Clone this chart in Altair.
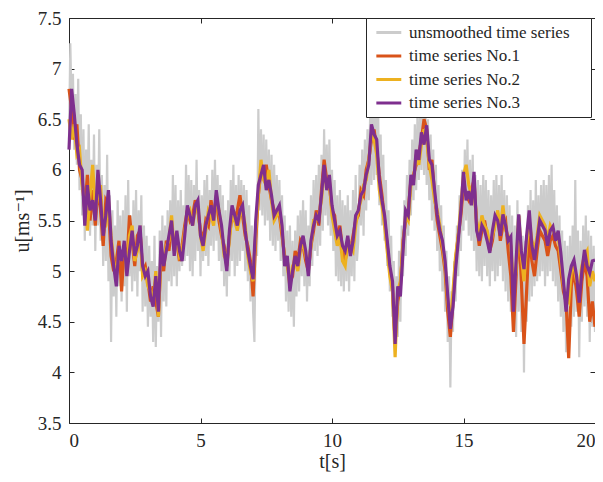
import altair as alt
import pandas as pd

# smoothed series: one sample every 0.1 s from 0 to 20 s
series1_u = [
    6.80, 6.60, 6.30, 6.45, 6.00, 5.90, 5.60, 5.95, 5.50, 5.80,
    5.45, 5.85, 5.60, 5.25, 5.70, 5.65, 5.15, 5.00, 5.10, 5.30,
    4.80, 5.25, 5.05, 5.55, 5.30, 5.05, 5.35, 5.40, 5.00, 5.05,
    4.90, 4.70, 4.85, 4.70, 4.55, 5.15, 5.00, 5.30, 5.20, 5.45,
    5.25, 5.30, 5.10, 5.25, 5.45, 5.60, 5.50, 5.55, 5.70, 5.60,
    5.40, 5.30, 5.50, 5.45, 5.70, 5.55, 5.70, 5.50, 5.35, 5.25,
    5.05, 5.35, 5.55, 5.50, 5.60, 5.75, 5.55, 5.35, 5.25, 5.10,
    4.75, 5.30, 5.75, 6.00, 5.95, 6.05, 5.85, 5.70, 5.60, 5.55,
    5.55, 5.35, 5.15, 5.10, 4.90, 4.95, 5.20, 5.10, 5.30, 5.25,
    5.10, 5.00, 5.25, 5.40, 5.60, 5.45, 5.80, 6.10, 5.90, 5.85,
    5.60, 5.55, 5.30, 5.45, 5.20, 5.10, 5.25, 5.20, 5.35, 5.50,
    5.55, 5.80, 5.75, 6.00, 6.10, 6.30, 6.40, 6.20, 5.95, 5.75,
    5.50, 5.25, 5.00, 4.85, 4.30, 4.70, 4.85, 5.30, 5.50, 5.60,
    5.90, 5.95, 6.05, 6.15, 6.30, 6.50, 6.40, 6.00, 6.10, 5.75,
    5.50, 5.35, 5.20, 5.00, 4.60, 4.35, 4.70, 5.10, 5.35, 5.55,
    5.85, 5.75, 5.70, 5.80, 5.90, 5.45, 5.25, 5.40, 5.50, 5.35,
    5.20, 5.30, 5.50, 5.55, 5.30, 5.45, 5.50, 5.20, 4.95, 4.40,
    4.95, 5.45, 4.90, 4.28, 4.80, 5.35, 5.10, 4.95, 5.20, 5.40,
    5.35, 5.30, 5.15, 5.30, 5.35, 5.25, 5.20, 5.00, 4.80, 4.70,
    4.14, 4.85, 5.00, 4.80, 4.55, 4.90, 5.10, 4.95, 4.50, 4.70,
    4.45,
]

series2_u = [
    6.50, 6.30, 6.45, 6.15, 6.20, 5.85, 5.70, 5.40, 5.75, 6.05,
    5.60, 5.75, 5.85, 5.40, 5.45, 5.70, 5.35, 5.10, 4.95, 5.20,
    5.15, 5.20, 5.00, 5.35, 5.45, 5.10, 5.20, 5.40, 4.95, 5.00,
    4.85, 4.80, 4.70, 5.00, 4.55, 5.20, 5.10, 5.25, 5.30, 5.55,
    5.20, 5.35, 5.15, 5.20, 5.40, 5.55, 5.60, 5.45, 5.60, 5.65,
    5.35, 5.20, 5.40, 5.60, 5.55, 5.45, 5.75, 5.60, 5.40, 5.15,
    5.10, 5.30, 5.60, 5.50, 5.40, 5.55, 5.60, 5.45, 5.15, 5.00,
    4.90, 5.40, 5.75, 6.10, 5.90, 5.85, 6.00, 5.70, 5.50, 5.55,
    5.60, 5.40, 5.10, 5.05, 4.85, 5.05, 5.10, 5.00, 5.20, 5.30,
    5.15, 5.05, 5.25, 5.50, 5.50, 5.55, 5.70, 6.00, 5.85, 5.90,
    5.55, 5.40, 5.25, 5.35, 5.10, 5.05, 5.30, 5.25, 5.20, 5.45,
    5.60, 5.70, 5.85, 5.90, 6.10, 6.35, 6.30, 6.15, 5.80, 5.65,
    5.45, 5.20, 4.95, 4.80, 4.15, 4.80, 4.90, 5.25, 5.55, 5.50,
    5.85, 5.90, 6.15, 6.05, 6.25, 6.40, 6.30, 6.05, 5.90, 5.70,
    5.60, 5.45, 5.25, 5.05, 4.70, 4.50, 4.80, 5.15, 5.35, 5.65,
    5.95, 6.05, 5.85, 5.75, 5.80, 5.50, 5.35, 5.55, 5.45, 5.40,
    5.25, 5.35, 5.45, 5.60, 5.40, 5.65, 5.40, 5.35, 5.25, 4.85,
    5.00, 5.55, 5.15, 4.90, 5.25, 5.50, 5.30, 5.20, 5.35, 5.55,
    5.50, 5.45, 5.30, 5.45, 5.40, 5.35, 5.35, 5.10, 4.85, 4.75,
    4.70, 5.00, 5.05, 4.90, 4.85, 5.05, 5.15, 5.20, 4.85, 5.00,
    4.90,
]

series3_u = [
    6.20, 6.80, 6.55, 6.25, 6.05, 6.00, 5.45, 5.85, 5.60, 5.70,
    5.50, 6.00, 5.70, 5.35, 5.55, 5.80, 5.30, 5.05, 4.85, 5.25,
    5.10, 5.30, 4.95, 5.20, 5.40, 5.15, 5.25, 5.45, 5.05, 4.95,
    5.00, 4.75, 4.65, 4.95, 4.60, 5.30, 5.05, 5.20, 5.35, 5.50,
    5.15, 5.40, 5.20, 5.10, 5.35, 5.65, 5.55, 5.45, 5.65, 5.70,
    5.35, 5.25, 5.45, 5.55, 5.65, 5.50, 5.80, 5.60, 5.45, 5.20,
    5.00, 5.40, 5.65, 5.55, 5.45, 5.60, 5.65, 5.40, 5.20, 5.05,
    4.92, 5.50, 5.85, 5.95, 6.05, 5.80, 5.90, 5.75, 5.55, 5.60,
    5.65, 5.45, 5.05, 5.15, 4.80, 5.00, 5.15, 5.05, 5.25, 5.35,
    5.20, 4.95, 5.30, 5.45, 5.55, 5.50, 5.75, 6.05, 5.80, 5.95,
    5.65, 5.50, 5.35, 5.40, 5.25, 5.20, 5.35, 5.15, 5.30, 5.55,
    5.60, 5.75, 5.80, 5.95, 6.05, 6.45, 6.35, 6.30, 5.90, 5.70,
    5.55, 5.30, 5.05, 4.90, 4.28, 4.85, 4.75, 5.20, 5.60, 5.55,
    5.95, 5.85, 6.20, 6.10, 6.37, 6.25, 6.44, 6.10, 6.05, 5.80,
    5.56, 5.40, 5.30, 5.10, 4.76, 4.43, 4.65, 5.02, 5.30, 5.60,
    5.98, 5.70, 5.79, 5.65, 5.98, 5.40, 5.30, 5.45, 5.40, 5.30,
    5.18, 5.40, 5.55, 5.50, 5.35, 5.56, 5.45, 5.30, 5.34, 4.60,
    5.10, 5.56, 5.20, 5.02, 5.35, 5.60, 5.25, 5.11, 5.30, 5.50,
    5.45, 5.40, 5.25, 5.40, 5.44, 5.30, 5.40, 5.18, 4.90, 4.60,
    4.92, 5.05, 5.11, 4.95, 4.69, 5.00, 5.21, 5.05, 4.98, 5.10,
    5.11,
]

# unsmoothed series: one sample every 0.05 s from 0 to 20 s
gray_u = [
    6.30, 7.25, 6.60, 6.95, 6.20, 6.75, 6.05, 6.90, 5.80, 6.55, 5.55, 6.40, 5.30, 6.20, 5.60, 6.45, 5.35, 6.10, 5.45, 6.35,
    5.20, 6.05, 5.45, 6.40, 5.30, 5.95, 5.05, 5.85, 5.10, 6.15, 4.90, 5.75, 4.30, 5.60, 4.75, 5.45, 4.55, 5.70, 4.85, 5.55,
    4.70, 5.60, 4.85, 5.75, 4.60, 5.90, 4.95, 5.55, 4.80, 5.70, 4.90, 5.80, 4.75, 5.60, 5.00, 5.75, 4.60, 5.45, 4.65, 5.35,
    4.45, 5.25, 4.55, 5.10, 4.30, 5.35, 4.25, 5.05, 4.50, 5.40, 4.35, 5.55, 4.70, 5.45, 4.65, 5.60, 4.90, 5.70, 4.85, 5.95,
    4.95, 5.85, 4.85, 5.70, 5.00, 5.80, 5.05, 5.65, 5.10, 6.05, 5.15, 5.95, 5.00, 5.90, 4.95, 5.85, 5.10, 6.10, 5.20, 5.80,
    4.95, 5.75, 5.10, 5.90, 5.15, 5.95, 5.05, 5.80, 5.25, 6.00, 5.20, 6.10, 5.30, 5.95, 5.10, 5.85, 5.00, 5.75, 4.85, 5.60,
    4.75, 5.70, 4.95, 5.90, 5.10, 6.05, 4.95, 5.85, 5.05, 5.95, 5.10, 5.90, 5.20, 5.85, 5.00, 5.80, 4.90, 5.65, 4.70, 5.45,
    4.60, 4.30, 5.45, 5.15, 6.60, 5.60, 6.40, 5.55, 6.35, 5.45, 6.30, 5.50, 6.20, 5.30, 6.15, 5.25, 6.05, 5.20, 5.95, 5.30,
    5.90, 5.10, 5.75, 4.95, 5.55, 4.70, 5.40, 4.60, 5.45, 4.55, 5.30, 4.45, 5.40, 4.75, 5.55, 4.80, 5.60, 4.95, 5.70, 4.85,
    5.60, 4.70, 5.45, 4.85, 5.75, 5.05, 5.90, 5.20, 5.95, 5.15, 6.05, 5.25, 6.15, 5.40, 6.40, 5.55, 6.25, 5.45, 6.30, 5.35,
    6.00, 5.20, 5.90, 4.95, 5.75, 4.90, 5.80, 4.85, 5.70, 4.80, 5.65, 4.90, 5.75, 4.80, 5.60, 4.95, 5.80, 4.90, 5.95, 5.10,
    5.30, 6.05, 5.45, 6.20, 5.35, 6.30, 5.60, 6.40, 5.70, 6.55, 5.85, 6.75, 5.90, 6.80, 5.95, 6.70, 5.65, 6.35, 5.45, 6.15,
    5.30, 5.90, 5.05, 5.60, 4.80, 5.35, 4.55, 5.10, 4.20, 4.95, 4.35, 5.20, 4.50, 5.45, 4.95, 5.70, 5.15, 5.95, 5.35, 6.10,
    5.55, 6.30, 5.70, 6.45, 5.80, 6.55, 5.90, 6.60, 6.00, 6.75, 5.95, 6.65, 5.85, 6.50, 5.70, 6.35, 5.50, 6.20, 5.40, 6.05,
    5.20, 5.85, 5.00, 5.65, 4.80, 5.45, 4.60, 5.20, 4.30, 4.95, 3.85, 4.80, 4.40, 5.10, 4.70, 5.45, 4.95, 5.75, 5.20, 6.00,
    5.40, 6.20, 5.50, 6.30, 5.35, 6.10, 5.30, 6.15, 5.20, 5.95, 5.00, 5.90, 4.95, 5.85, 4.90, 5.95, 5.05, 5.90, 4.95, 5.80,
    4.85, 5.75, 5.00, 5.90, 4.90, 5.95, 4.95, 5.85, 5.05, 5.95, 4.90, 5.80, 4.80, 5.75, 4.70, 5.65, 4.60, 5.55, 4.50, 5.45,
    4.35, 5.70, 4.60, 5.55, 4.40, 5.35, 4.00, 5.30, 4.50, 5.65, 4.70, 5.80, 4.75, 5.70, 4.85, 5.90, 4.90, 5.75, 4.95, 5.85,
    5.00, 5.90, 4.85, 5.85, 4.95, 5.95, 5.00, 6.05, 4.90, 5.80, 4.85, 5.65, 4.70, 5.55, 4.55, 5.40, 4.40, 5.30, 4.20, 5.25,
    4.30, 5.35, 4.45, 5.45, 4.55, 5.90, 4.60, 5.40, 4.15, 5.30, 4.50, 5.45, 4.65, 5.55, 4.55, 5.40, 4.30, 5.35, 4.45, 5.25,
    4.40,
]

t_smooth = [i / 10 for i in range(len(series3_u))]
t_raw = [i / 20 for i in range(len(gray_u))]

names = ["unsmoothed time series", "time series No.1",
         "time series No.2", "time series No.3"]
colors = ["#cccccc", "#D95319", "#EDB120", "#7E2F8E"]
x_ticks = [0, 5, 10, 15, 20]
y_ticks = [3.5, 4, 4.5, 5, 5.5, 6, 6.5, 7, 7.5]

FONT = "Times New Roman, Liberation Serif, DejaVu Serif, serif"
INK = "#262626"

df_gray = pd.DataFrame({"t": t_raw, "u": gray_u})
df_1 = pd.DataFrame({"t": t_smooth, "u": series1_u})
df_2 = pd.DataFrame({"t": t_smooth, "u": series2_u})
df_3 = pd.DataFrame({"t": t_smooth, "u": series3_u})

xscale = alt.Scale(domain=[0, 20], nice=False, zero=False)
yscale = alt.Scale(domain=[3.5, 7.5], nice=False, zero=False)
cscale = alt.Scale(domain=names, range=colors)

gray = alt.Chart(df_gray).mark_line(strokeWidth=2.2).encode(
    x=alt.X("t:Q", scale=xscale, axis=alt.Axis(
        values=x_ticks, tickSize=0, domain=False, grid=False,
        title="t[s]", labelPadding=8, titlePadding=1,
        labelFontSize=19, titleFontSize=20, titleFontWeight="normal",
        labelFont=FONT, titleFont=FONT, labelColor=INK, titleColor=INK)),
    y=alt.Y("u:Q", scale=yscale, axis=alt.Axis(
        values=y_ticks, tickSize=0, domain=False, grid=False, format="~g",
        title="u[ms⁻¹]", labelPadding=8, titlePadding=5,
        labelFontSize=19, titleFontSize=20, titleFontWeight="normal",
        labelFont=FONT, titleFont=FONT, labelColor=INK, titleColor=INK)),
    color=alt.Color("s:N", scale=cscale, legend=alt.Legend(
        title=" ", titleOrient="right", titlePadding=15, titleFontSize=17,
        orient="none", legendX=297, legendY=0,
        symbolType="M-1,0H5", symbolSize=69, symbolStrokeWidth=3,
        symbolFillColor="transparent", labelLimit=400,
        labelFont=FONT, labelFontSize=17, labelColor=INK,
        labelOffset=20, rowPadding=5.5, padding=6,
        strokeColor=INK, fillColor="white", cornerRadius=0)),
).transform_calculate(s="'" + names[0] + "'")


def colored(df, name):
    return alt.Chart(df).mark_line(strokeWidth=3.2).encode(
        x=alt.X("t:Q", scale=xscale, axis=None),
        y=alt.Y("u:Q", scale=yscale, axis=None),
        color=alt.Color("s:N", scale=cscale),
    ).transform_calculate(s="'" + name + "'")


l1 = colored(df_1, names[1])
l2 = colored(df_2, names[2])
l3 = colored(df_3, names[3])

tick_style = dict(tickSize=5, labels=False, domain=False, grid=False,
                  tickColor=INK, offset=-5)

ticks_bl = alt.Chart(df_3).mark_line(opacity=0).encode(
    x=alt.X("t:Q", scale=xscale, axis=alt.Axis(orient="bottom", values=x_ticks,
                                               title=None, **tick_style)),
    y=alt.Y("u:Q", scale=yscale, axis=alt.Axis(orient="left", values=y_ticks,
                                               title=None, **tick_style)),
)
ticks_tr = alt.Chart(df_3).mark_line(opacity=0).encode(
    x=alt.X("t:Q", scale=xscale, axis=alt.Axis(orient="top", values=x_ticks,
                                               title=None, **tick_style)),
    y=alt.Y("u:Q", scale=yscale, axis=alt.Axis(orient="right", values=y_ticks,
                                               title=None, **tick_style)),
)

chart = alt.layer(gray, l1, l2, l3, ticks_bl, ticks_tr).resolve_axis(
    x="independent", y="independent"
).properties(
    width=526, height=405,
    autosize=alt.AutoSizeParams(type="none"),
    padding={"left": 61, "top": 10, "right": 0, "bottom": 50},
).configure(
    background="white", font=FONT
).configure_axis(
    labelFont=FONT, titleFont=FONT, labelColor=INK, titleColor=INK,
    titleFontWeight="normal"
).configure_legend(
    labelFont=FONT, titleFont=FONT
).configure_view(
    stroke=INK, strokeWidth=1
)

chart.save("out.html", embed_options={"renderer": "svg", "actions": False})
